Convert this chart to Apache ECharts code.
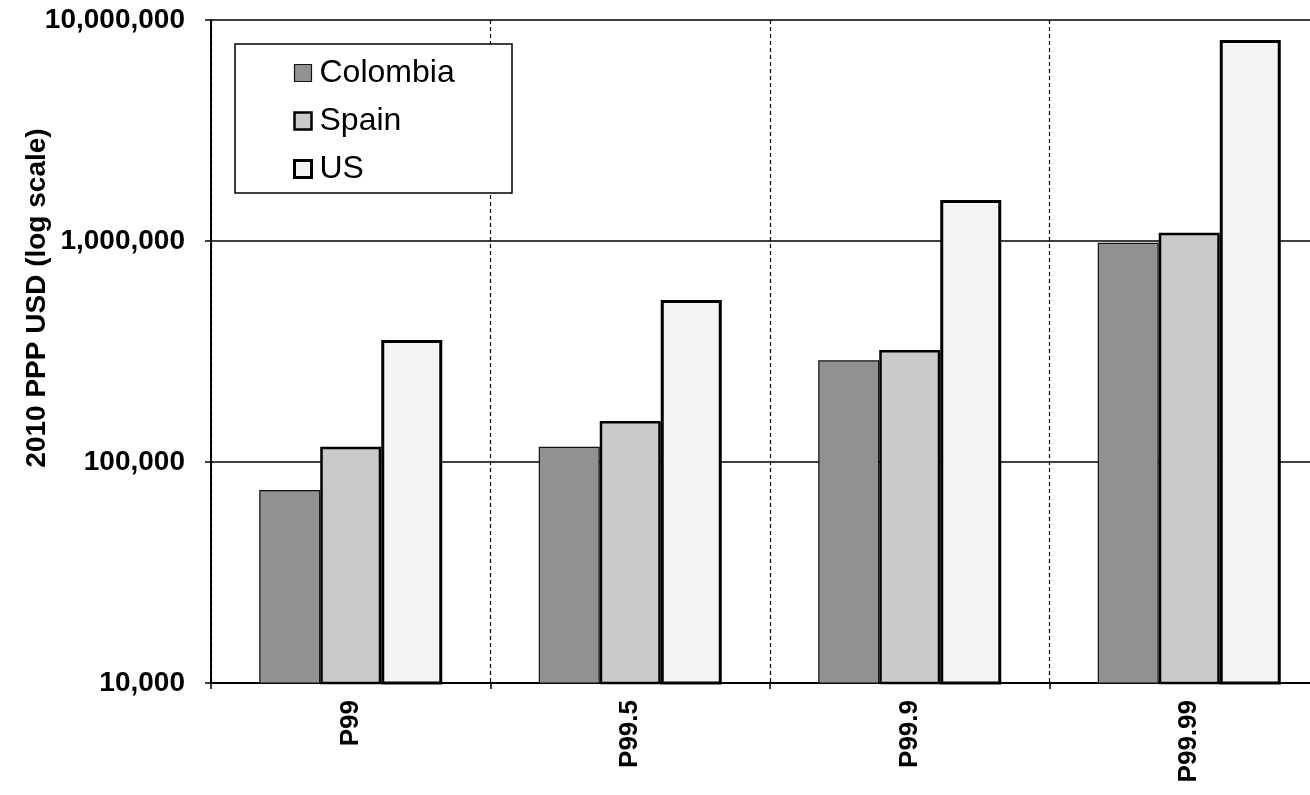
<!DOCTYPE html>
<html>
<head>
<meta charset="utf-8">
<script src="https://cdn.jsdelivr.net/npm/echarts@6/dist/echarts.min.js"></script>
<style>
html,body{margin:0;padding:0;background:#fff;}
#chart{width:1310px;height:795px;}
</style>
</head>
<body>
<div id="chart"></div>
<script>
const categories = ['P99', 'P99.5', 'P99.9', 'P99.99'];
const colombia = [74700, 117300, 288500, 982000];
const spain = [117300, 153300, 321300, 1090000];
const us = [356500, 541000, 1533000, 8118000];
const seriesNames = ['Colombia', 'Spain', 'US'];
const yTicks = [10000, 100000, 1000000, 10000000];

const FONT = "'Liberation Sans', Arial, sans-serif";
function fmt(v) {
  return String(Math.round(v)).replace(/\B(?=(\d{3})+(?!\d))/g, ',');
}

const styles = [
  { color: '#919191', borderColor: '#111', borderWidth: 1.2 },
  { color: '#cacaca', borderColor: '#000', borderWidth: 2.5 },
  { color: '#f3f3f3', borderColor: '#000', borderWidth: 3 }
];
const dataSets = [colombia, spain, us];

const chart = echarts.init(document.getElementById('chart'), null, { renderer: 'canvas' });
chart.setOption({
  animation: false,
  backgroundColor: '#fff',
  grid: { left: 211, top: 20, height: 663, width: 1118, containLabel: false, outerBoundsMode: 'none' },
  legend: {
    orient: 'vertical',
    left: 293,
    top: 57,
    padding: 0,
    z: 20,
    itemWidth: 17,
    itemHeight: 17,
    itemGap: 16,
    icon: 'rect',
    selectedMode: false,
    textStyle: { fontFamily: FONT, fontSize: 32, color: '#000', lineHeight: 32, padding: [0, 0, 0, 3] },
    data: seriesNames.map((n, i) => ({ name: n, itemStyle: styles[i] }))
  },
  graphic: [{
    type: 'rect',
    z: 10,
    shape: { x: 235, y: 44, width: 277, height: 149 },
    style: { fill: '#fff', stroke: '#000', lineWidth: 1.5 }
  }],
  xAxis: {
    type: 'category',
    data: categories,
    boundaryGap: true,
    axisLine: { show: true, lineStyle: { color: '#000', width: 2 } },
    axisTick: { show: true, length: 6, lineStyle: { color: '#000', width: 1.5 } },
    axisLabel: { interval: 0, rotate: 90, margin: 17, fontFamily: FONT, fontWeight: 'bold', fontSize: 26, color: '#000' },
    splitLine: { show: true, lineStyle: { color: '#000', width: 1.2, type: [4, 3] } }
  },
  yAxis: {
    type: 'log',
    logBase: 10,
    min: yTicks[0],
    max: yTicks[yTicks.length - 1],
    name: '2010 PPP USD (log scale)',
    nameLocation: 'middle',
    nameGap: 160,
    nameMoveOverlap: false,
    nameTextStyle: { fontFamily: FONT, fontWeight: 'bold', fontSize: 28, color: '#000', padding: [0, 0, 0, 107] },
    axisLine: { show: true, lineStyle: { color: '#000', width: 2 } },
    axisTick: { show: true, length: 6, lineStyle: { color: '#000', width: 1.5 } },
    minorTick: { show: false },
    axisLabel: { margin: 26, fontFamily: FONT, fontWeight: 'bold', fontSize: 28, color: '#000', formatter: fmt },
    splitLine: { show: true, lineStyle: { color: '#000', width: 1.5 } }
  },
  series: seriesNames.map((n, i) => ({
    name: n,
    type: 'bar',
    data: dataSets[i],
    barWidth: 61,
    barGap: '0%',
    itemStyle: styles[i]
  }))
});
</script>
</body>
</html>
